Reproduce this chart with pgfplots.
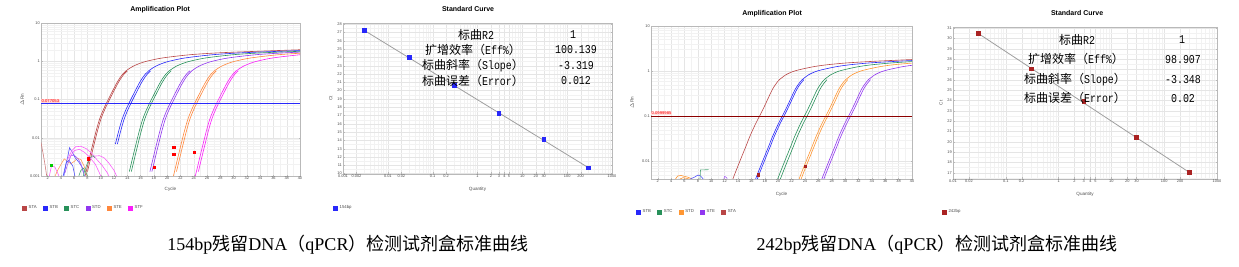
\documentclass[border=0pt]{standalone}
\usepackage{pgfplots}
\pgfplotsset{compat=1.18}
\usepackage{fontspec}
\setmainfont{Liberation Serif}
\setsansfont{Liberation Sans}
\newfontfamily\cjk{Noto Sans CJK SC}
\newfontfamily\simlat[FakeStretch=0.83]{Liberation Mono}
\newcommand\cj[1]{{\cjk #1}}
\definecolor{sta}{RGB}{185,70,70}
\definecolor{stb}{RGB}{40,40,250}
\definecolor{stc}{RGB}{40,145,90}
\definecolor{std}{RGB}{145,55,240}
\definecolor{ste}{RGB}{255,135,60}
\definecolor{stf}{RGB}{250,30,250}
\definecolor{stdor}{RGB}{255,150,50}
\definecolor{thr}{RGB}{140,0,0}
\definecolor{sqred}{RGB}{170,35,35}
\definecolor{lgsta}{RGB}{165,30,30}
\pgfplotsset{
 base/.style={scale only axis, anchor=south west,
   axis line style={gray!55}, tick style={gray!55, line width=0.3pt},
   major tick length=1.5pt, minor tick length=0pt, tick align=inside,
   grid=both, major grid style={gray!20, line width=0.3pt}, minor grid style={gray!10, line width=0.25pt},
   ticklabel style={font=\sffamily\fontsize{3.9}{4.5}\selectfont, text=gray!60!black, inner sep=1pt},
   label style={font=\sffamily\fontsize{4.6}{5}\selectfont, text=gray!60!black},
   title style={font=\sffamily\bfseries\fontsize{7}{8}\selectfont, anchor=base, inner sep=0pt},
   legend style={draw=none, fill=none, font=\sffamily\fontsize{4.3}{5}\selectfont, text=gray!60!black,
     legend columns=-1, inner sep=0pt, outer sep=0pt, anchor=west,
     nodes={inner sep=0pt},
     /tikz/every odd column/.append style={column sep=1.8pt},
     /tikz/every even column/.append style={column sep=6.2pt}},
   legend cell align=left,
   legend image code/.code={\fill[##1] (0pt,-2.1pt) rectangle (4.2pt,2.1pt);},
   /pgf/number format/assume math mode=true,
   every axis plot/.append style={line width=0.6pt},
 },
}
\begin{document}
\begin{tikzpicture}
\useasboundingbox (0,0) rectangle (1239pt,267pt);
% ---------------- Plot 1: amplification 154bp
\begin{axis}[base, at={(41pt,91pt)}, width=259pt, height=153pt,
  xmin=1, xmax=40, ymode=log, ymin=0.001, ymax=10,
  xtick={2,4,...,40}, minor xtick={1,3,...,39},
  ytick={0.001,0.01,0.1,1,10}, yticklabels={0.001,0.01,0.1,1,10},
  minor ytick={0.002,0.003,0.004,0.005,0.006,0.007,0.008,0.009,0.02,0.03,0.04,0.05,0.06,0.07,0.08,0.09,0.2,0.3,0.4,0.5,0.6,0.7,0.8,0.9,2,3,4,5,6,7,8,9},
  title={Amplification Plot}, title style={at={(0.46,1)}, yshift=5.5pt},
  xlabel={Cycle}, xlabel style={at={(axis description cs:0.5,-0.049)}, anchor=north},
  ylabel={$\Delta$Rn}, ylabel style={at={(axis description cs:-0.073,0.5)}, anchor=center},
  legend style={at={(-0.073,-0.209)}},
  ]
\addplot[sta, smooth] coordinates {(7.3,0.0006)(7.8,0.0013)(8.3,0.003)(8.8,0.0068)(9.3,0.015)(9.8,0.03)(10.3,0.05)(10.8,0.077)(11.3,0.115)(11.8,0.17)(12.3,0.25)(12.8,0.35)(13.3,0.46)(13.8,0.56)(14.8,0.73)(15.8,0.87)(16.8,0.99)(18.8,1.18)(20.8,1.32)(23.8,1.5)(27.8,1.66)(32.8,1.8)(40,2.0)};
\addlegendentry{STA}
\addplot[stb, smooth] coordinates {(12.2,0.0068)(12.7,0.015)(13.2,0.03)(13.7,0.05)(14.2,0.077)(14.7,0.115)(15.2,0.17)(15.7,0.25)(16.2,0.35)(16.7,0.46)(17.2,0.56)(18.2,0.73)(19.2,0.87)(20.2,0.99)(22.2,1.18)(24.2,1.32)(27.2,1.5)(31.2,1.66)(36.2,1.8)(40,1.9)};
\addlegendentry{STB}
\addplot[stc, smooth] coordinates {(14.3,0.0013)(14.8,0.003)(15.3,0.0068)(15.8,0.015)(16.3,0.03)(16.8,0.05)(17.3,0.077)(17.8,0.115)(18.3,0.17)(18.8,0.25)(19.3,0.35)(19.8,0.46)(20.3,0.56)(21.3,0.73)(22.3,0.87)(23.3,0.99)(25.3,1.18)(27.3,1.32)(30.3,1.5)(34.3,1.66)(40,1.82)};
\addlegendentry{STC}
\addplot[std, smooth] coordinates {(17.7,0.0013)(18.2,0.003)(18.7,0.0068)(19.2,0.015)(19.7,0.03)(20.2,0.05)(20.7,0.077)(21.2,0.115)(21.7,0.17)(22.2,0.25)(22.7,0.35)(23.2,0.46)(23.7,0.56)(24.7,0.73)(25.7,0.87)(26.7,0.99)(28.7,1.18)(30.7,1.32)(33.7,1.5)(37.7,1.66)(40,1.73)};
\addlegendentry{STD}
\addplot[ste, smooth] coordinates {(20.6,0.0006)(21.1,0.0013)(21.6,0.003)(22.1,0.0068)(22.6,0.015)(23.1,0.03)(23.6,0.05)(24.1,0.077)(24.6,0.115)(25.1,0.17)(25.6,0.25)(26.1,0.35)(26.6,0.46)(27.1,0.56)(28.1,0.73)(29.1,0.87)(30.1,0.99)(32.1,1.18)(34.1,1.32)(37.1,1.5)(40,1.62)};
\addlegendentry{STE}
\addplot[stf, smooth] coordinates {(23.9,0.0006)(24.4,0.0013)(24.9,0.003)(25.4,0.0068)(25.9,0.015)(26.4,0.03)(26.9,0.05)(27.4,0.077)(27.9,0.115)(28.4,0.17)(28.9,0.25)(29.4,0.35)(29.9,0.46)(30.4,0.56)(31.4,0.73)(32.4,0.87)(33.4,0.99)(35.4,1.18)(37.4,1.32)(40,1.48)};
\addlegendentry{STF}
% replicates
\addplot[sta, smooth, forget plot] coordinates {(8.0,0.0013)(8.5,0.003)(9.0,0.0068)(9.5,0.015)(10.0,0.03)(10.5,0.05)(11.0,0.077)(11.5,0.115)(12.0,0.17)(12.5,0.25)(13.0,0.35)(13.5,0.46)(14.0,0.56)};
\addplot[stb, smooth, forget plot] coordinates {(12.5,0.0068)(13.0,0.015)(13.5,0.03)(14.0,0.05)(14.5,0.077)(15.0,0.115)(15.5,0.17)(16.0,0.25)(16.5,0.35)(17.0,0.46)(17.5,0.56)};
\addplot[stc, smooth, forget plot] coordinates {(14.6,0.0013)(15.1,0.003)(15.6,0.0068)(16.1,0.015)(16.6,0.03)(17.1,0.05)(17.6,0.077)(18.1,0.115)(18.6,0.17)(19.1,0.25)(19.6,0.35)(20.1,0.46)(20.6,0.56)};
\addplot[std, smooth, forget plot] coordinates {(17.4,0.0013)(17.9,0.003)(18.4,0.0068)(18.9,0.015)(19.4,0.03)(19.9,0.05)(20.4,0.077)(20.9,0.115)(21.4,0.17)(21.9,0.25)(22.4,0.35)(22.9,0.46)(23.4,0.56)};
\addplot[ste, smooth, forget plot] coordinates {(21.4,0.0013)(21.9,0.003)(22.4,0.0068)(22.9,0.015)(23.4,0.03)(23.9,0.05)(24.4,0.077)(24.9,0.115)(25.4,0.17)(25.9,0.25)(26.4,0.35)(26.9,0.46)(27.4,0.56)};
\addplot[stf, smooth, forget plot] coordinates {(24.7,0.0013)(25.2,0.003)(25.7,0.0068)(26.2,0.015)(26.7,0.03)(27.2,0.05)(27.7,0.077)(28.2,0.115)(28.7,0.17)(29.2,0.25)(29.7,0.35)(30.2,0.46)(30.7,0.56)};
% baseline noise
\addplot[sta!70, forget plot] coordinates {(1,0.0075)(1.3,0.004)(1.6,0.002)(1.9,0.0009)};
\addplot[stf!70, forget plot] coordinates {(2.2,0.0009)(2.6,0.0019)(3.1,0.0017)(3.6,0.0011)(3.9,0.0008)};
\addplot[ste!80, forget plot] coordinates {(3,0.0009)(3.5,0.0014)(4,0.002)(4.5,0.0028)(5,0.0024)(5.5,0.0021)(6,0.0024)(6.5,0.0029)(7,0.0027)(7.5,0.0018)(8,0.0009)};
\addplot[stb!80, forget plot] coordinates {(4.2,0.0008)(4.6,0.0016)(5,0.003)(5.3,0.0055)(5.7,0.0042)(6.2,0.0029)(6.7,0.0023)(7.2,0.0017)(7.6,0.0009)};
\addplot[stb!80, forget plot] coordinates {(4.4,0.0009)(4.8,0.0022)(5.2,0.0026)(5.8,0.0018)(6.1,0.001)(6.3,0.0008)};
\addplot[std!80, forget plot] coordinates {(4.6,0.0012)(5,0.002)(5.5,0.0034)(6,0.0035)(6.6,0.0028)(7,0.0021)(7.4,0.0012)};
\addplot[stf!70, forget plot] coordinates {(5,0.0027)(5.6,0.0045)(6.2,0.0058)(7,0.006)(7.8,0.0052)(8.6,0.004)(9.4,0.0027)(10.2,0.0019)(11,0.0012)(11.5,0.0008)};
\addplot[stf!70, forget plot] coordinates {(5.3,0.003)(6,0.0046)(6.8,0.005)(7.6,0.0041)(8.4,0.003)(9.2,0.002)(9.8,0.0012)(10.2,0.0008)};
\addplot[stf!70, forget plot] coordinates {(8.2,0.0028)(9,0.0033)(9.8,0.0034)(10.5,0.003)(11.2,0.0022)(12,0.0014)(12.5,0.0009)};
\addplot[stc!80, forget plot] coordinates {(7.2,0.0008)(7.6,0.0014)(8,0.0022)(8.4,0.003)(8.8,0.0034)(9.1,0.003)};
\addplot[stc!80, forget plot] coordinates {(6.6,0.0009)(7,0.0014)(7.4,0.0016)(7.8,0.0012)(8.1,0.0009)};
\addplot[only marks, mark=square*, mark size=1.1pt, red, forget plot] coordinates {(8.1,0.0028)(18.1,0.0017)(21.0,0.0055)(21.0,0.0037)(24.1,0.0041)};
\addplot[only marks, mark=square*, mark size=1.1pt, green!80!black, forget plot] coordinates {(2.5,0.0019)};
\addplot[stb, line width=1.2pt, forget plot] coordinates {(1,0.077)(40,0.077)};
\node[anchor=south west, font=\sffamily\fontsize{4.2}{4.2}\selectfont, text=red, fill=red!15, inner sep=0.4pt] at (axis cs:1,0.08) {0.077053};
\end{axis}
% ---------------- Plot 2: standard curve 154bp
\begin{axis}[base, at={(343pt,93pt)}, width=269pt, height=151pt,
  xmode=log, xmin=0.001, xmax=1000, ymin=9.95, ymax=28.15,
  xtick={0.001,0.002,0.01,0.02,0.1,0.2,1,2,3,4,5,10,20,30,100,200,1000},
  xticklabels={0.001,0.002,0.01,0.02,0.1,0.2,1,2,3,4,5,10,20,30,100,200,1000},
  minor xtick={0.003,0.004,0.005,0.006,0.007,0.008,0.009,0.03,0.04,0.05,0.06,0.07,0.08,0.09,0.3,0.4,0.5,0.6,0.7,0.8,0.9,6,7,8,9,40,50,60,70,80,90,300,400,500,600,700,800,900},
  ytick={10,11,...,28}, minor ytick={10.5,11.5,...,27.5},
  title={Standard Curve}, title style={at={(0.465,1)}, yshift=5.5pt},
  xlabel={Quantity}, xlabel style={at={(axis description cs:0.5,-0.063)}, anchor=north},
  ylabel={Ct}, ylabel style={at={(axis description cs:-0.045,0.5)}, anchor=center},
  legend style={at={(-0.037,-0.225)}},
  ]
\addplot[gray!75, line width=0.8pt, forget plot] coordinates {(0.003,27.25)(300,10.7)};
\addplot[only marks, mark=square*, mark size=1.9pt, stb] coordinates {(0.003,27.25)(0.03,24.05)(0.3,20.62)(3,17.3)(30,14.12)(300,10.7)};
\addlegendentry{154bp}
\end{axis}
% ---------------- Plot 3: amplification 242bp
\begin{axis}[base, at={(651pt,88pt)}, width=261pt, height=153pt,
  xmin=1, xmax=40, ymode=log, ymin=0.0041, ymax=10,
  xtick={2,4,...,40}, minor xtick={1,3,...,39},
  ytick={0.01,0.1,1,10}, yticklabels={0.01,0.1,1,10},
  minor ytick={0.005,0.006,0.007,0.008,0.009,0.02,0.03,0.04,0.05,0.06,0.07,0.08,0.09,0.2,0.3,0.4,0.5,0.6,0.7,0.8,0.9,2,3,4,5,6,7,8,9},
  title={Amplification Plot}, title style={at={(0.464,1)}, yshift=4.5pt},
  xlabel={Cycle}, xlabel style={at={(axis description cs:0.5,-0.062)}, anchor=north},
  ylabel={$\Delta$Rn}, ylabel style={at={(axis description cs:-0.073,0.5)}, anchor=center},
  legend style={at={(-0.057,-0.216)}},
  ]
\addplot[stb, smooth] coordinates {(16.6,0.004)(17.1,0.0062)(17.6,0.0095)(18.1,0.0145)(18.6,0.022)(19.1,0.034)(19.6,0.05)(20.1,0.072)(20.6,0.1)(21.1,0.14)(21.6,0.2)(22.1,0.29)(22.6,0.41)(23.1,0.53)(23.6,0.65)(24.6,0.84)(25.6,0.98)(26.6,1.08)(28.6,1.25)(30.6,1.38)(33.6,1.52)(37.6,1.65)(40,1.72)};
\addlegendentry{STB}
\addplot[stc, smooth] coordinates {(19.9,0.004)(20.4,0.0062)(20.9,0.0095)(21.4,0.0145)(21.9,0.022)(22.4,0.034)(22.9,0.05)(23.4,0.072)(23.9,0.1)(24.4,0.14)(24.9,0.2)(25.4,0.29)(25.9,0.41)(26.4,0.53)(26.9,0.65)(27.9,0.84)(28.9,0.98)(29.9,1.08)(31.9,1.25)(33.9,1.38)(36.9,1.52)(40,1.63)};
\addlegendentry{STC}
\addplot[stdor, smooth] coordinates {(23.1,0.004)(23.6,0.0062)(24.1,0.0095)(24.6,0.0145)(25.1,0.022)(25.6,0.034)(26.1,0.05)(26.6,0.072)(27.1,0.1)(27.6,0.14)(28.1,0.2)(28.6,0.29)(29.1,0.41)(29.6,0.53)(30.1,0.65)(31.1,0.84)(32.1,0.98)(33.1,1.08)(35.1,1.25)(37.1,1.38)(40,1.51)};
\addlegendentry{STD}
\addplot[std, smooth] coordinates {(26.5,0.004)(27.0,0.0062)(27.5,0.0095)(28.0,0.0145)(28.5,0.022)(29.0,0.034)(29.5,0.05)(30.0,0.072)(30.5,0.1)(31.0,0.14)(31.5,0.2)(32.0,0.29)(32.5,0.41)(33.0,0.53)(33.5,0.65)(34.5,0.84)(35.5,0.98)(36.5,1.08)(38.5,1.25)(40,1.35)};
\addlegendentry{STE}
\addplot[sta, smooth] coordinates {(13.2,0.004)(13.7,0.0062)(14.2,0.0095)(14.7,0.0145)(15.2,0.022)(15.7,0.034)(16.2,0.05)(16.7,0.072)(17.2,0.1)(17.7,0.14)(18.2,0.2)(18.7,0.29)(19.2,0.41)(19.7,0.53)(20.2,0.65)(21.2,0.84)(22.2,0.98)(23.2,1.08)(25.2,1.25)(27.2,1.38)(30.2,1.52)(34.2,1.65)(40,1.81)};
\addlegendentry{STA}
\addplot[stb, smooth, forget plot] coordinates {(16.85,0.004)(17.35,0.0062)(17.85,0.0095)(18.35,0.0145)(18.85,0.022)(19.35,0.034)(19.85,0.05)(20.35,0.072)(20.85,0.1)(21.35,0.14)(21.85,0.2)(22.35,0.29)(22.85,0.41)(23.35,0.53)(23.85,0.65)};
\addplot[stc, smooth, forget plot] coordinates {(20.3,0.004)(20.8,0.0062)(21.3,0.0095)(21.8,0.0145)(22.3,0.022)(22.8,0.034)(23.3,0.05)(23.8,0.072)(24.3,0.1)(24.8,0.14)(25.3,0.2)(25.8,0.29)(26.3,0.41)(26.8,0.53)(27.3,0.65)};
\addplot[stdor, smooth, forget plot] coordinates {(23.4,0.004)(23.9,0.0062)(24.4,0.0095)(24.9,0.0145)(25.4,0.022)(25.9,0.034)(26.4,0.05)(26.9,0.072)(27.4,0.1)(27.9,0.14)(28.4,0.2)(28.9,0.29)(29.4,0.41)(29.9,0.53)(30.4,0.65)};
\addplot[std, smooth, forget plot] coordinates {(26.8,0.004)(27.3,0.0062)(27.8,0.0095)(28.3,0.0145)(28.8,0.022)(29.3,0.034)(29.8,0.05)(30.3,0.072)(30.8,0.1)(31.3,0.14)(31.8,0.2)(32.3,0.29)(32.8,0.41)(33.3,0.53)(33.8,0.65)};
% noise
\addplot[stdor, forget plot] coordinates {(4.5,0.0038)(5,0.0048)(5.5,0.0049)(6,0.0047)(6.5,0.0045)(7,0.0042)(7.5,0.0038)};
\addplot[stdor, forget plot] coordinates {(5,0.0039)(5.8,0.0044)(6.4,0.0042)(7,0.004)};
\addplot[stb!80, forget plot] coordinates {(6.5,0.0037)(7,0.0042)(7.5,0.0045)(8,0.005)(8.4,0.0048)(8.8,0.0041)(9.2,0.0036)};
\addplot[stc!80, forget plot] coordinates {(8.3,0.0037)(8.4,0.0065)(9.6,0.0066)};
\addplot[std!80, forget plot] coordinates {(11.8,0.0037)(12,0.0047)(12.3,0.0044)(12.5,0.0037)};
\addplot[only marks, mark=square*, mark size=1.1pt, sqred, forget plot] coordinates {(17.0,0.0051)(24.0,0.0078)};
\addplot[thr, line width=1.2pt, forget plot] coordinates {(1,0.1)(40,0.1)};
\node[anchor=south west, font=\sffamily\fontsize{4.2}{4.2}\selectfont, text=red, fill=red!12, inner sep=0.4pt] at (axis cs:1,0.104) {0.0999985};
\end{axis}
% ---------------- Plot 4: standard curve 242bp
\begin{axis}[base, at={(953pt,88pt)}, width=264pt, height=152pt,
  xmode=log, xmin=0.01, xmax=1000, ymin=16.4, ymax=31.1,
  xtick={0.01,0.02,0.1,0.2,1,2,3,4,5,10,20,30,100,200,1000},
  xticklabels={0.01,0.02,0.1,0.2,1,2,3,4,5,10,20,30,100,200,1000},
  minor xtick={0.03,0.04,0.05,0.06,0.07,0.08,0.09,0.3,0.4,0.5,0.6,0.7,0.8,0.9,6,7,8,9,40,50,60,70,80,90,300,400,500,600,700,800,900},
  ytick={17,18,...,31}, minor ytick={16.5,17.5,...,30.5},
  title={Standard Curve}, title style={at={(0.47,1)}, yshift=5.5pt},
  xlabel={Quantity}, xlabel style={at={(axis description cs:0.5,-0.063)}, anchor=north},
  ylabel={Ct}, ylabel style={at={(axis description cs:-0.045,0.5)}, anchor=center},
  legend style={at={(-0.042,-0.217)}},
  ]
\addplot[gray!75, line width=0.8pt, forget plot] coordinates {(0.03,30.48)(300,17.03)};
\addplot[only marks, mark=square*, mark size=1.9pt, sqred] coordinates {(0.03,30.48)(0.3,27.06)(3,23.9)(30,20.42)(300,17.03)};
\addlegendentry{242bp}
\end{axis}
% ---------------- overlay texts
\begin{scope}[every node/.style={font=\fontsize{12}{14}\selectfont, inner sep=0pt}]
\node at (476pt,232pt) {\cj{标曲}{\simlat R2}};
\node at (473pt,217pt) {\cj{扩增效率（}{\simlat Eff\%}\cj{）}};
\node at (473pt,201.3pt) {\cj{标曲斜率（}{\simlat Slope}\cj{）}};
\node at (473pt,186.3pt) {\cj{标曲误差（}{\simlat Error}\cj{）}};
\node at (573pt,232pt) {\simlat 1};
\node at (576pt,217pt) {\simlat 100.139};
\node at (576pt,201.3pt) {\simlat -3.319};
\node at (576pt,186.3pt) {\simlat 0.012};
\node at (1077pt,227pt) {\cj{标曲}{\simlat R2}};
\node at (1076pt,207.7pt) {\cj{扩增效率（}{\simlat Eff\%}\cj{）}};
\node at (1075pt,187.7pt) {\cj{标曲斜率（}{\simlat Slope}\cj{）}};
\node at (1075pt,168.7pt) {\cj{标曲误差（}{\simlat Error}\cj{）}};
\node at (1182pt,227pt) {\simlat 1};
\node at (1183pt,207.7pt) {\simlat 98.907};
\node at (1183pt,187.7pt) {\simlat -3.348};
\node at (1183pt,168.7pt) {\simlat 0.02};
\end{scope}
% captions
\node[font=\fontsize{18}{20}\selectfont, inner sep=0pt] at (348pt,22pt) {154bp\cj{残留}DNA\cj{（}qPCR\cj{）检测试剂盒标准曲线}};
\node[font=\fontsize{18}{20}\selectfont, inner sep=0pt] at (937pt,22pt) {242bp\cj{残留}DNA\cj{（}qPCR\cj{）检测试剂盒标准曲线}};
\end{tikzpicture}
\end{document}
